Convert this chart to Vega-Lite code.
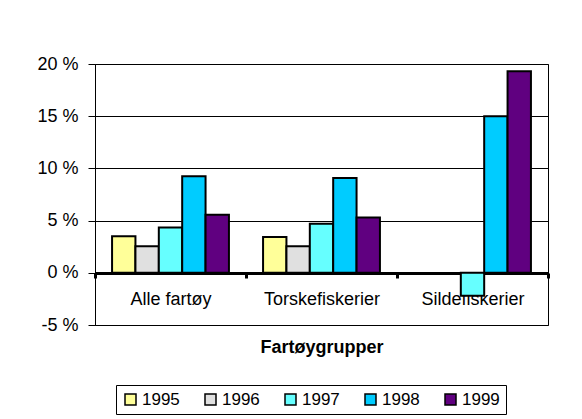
{
  "$schema": "https://vega.github.io/schema/vega-lite/v6.json",
  "width": 453,
  "height": 261,
  "autosize": {"type": "none"},
  "padding": {"left": 95, "top": 64, "right": 34, "bottom": 94},
  "background": "white",
  "config": {
    "font": "Liberation Sans",
    "view": {"stroke": "black", "strokeWidth": 1}
  },
  "data": {
    "values": [
      {"group": "Alle fartøy", "year": "1995", "value": 3.5},
      {"group": "Alle fartøy", "year": "1996", "value": 2.55},
      {"group": "Alle fartøy", "year": "1997", "value": 4.33},
      {"group": "Alle fartøy", "year": "1998", "value": 9.25},
      {"group": "Alle fartøy", "year": "1999", "value": 5.55},
      {"group": "Torskefiskerier", "year": "1995", "value": 3.43},
      {"group": "Torskefiskerier", "year": "1996", "value": 2.55},
      {"group": "Torskefiskerier", "year": "1997", "value": 4.71},
      {"group": "Torskefiskerier", "year": "1998", "value": 9.07},
      {"group": "Torskefiskerier", "year": "1999", "value": 5.29},
      {"group": "Sildefiskerier", "year": "1997", "value": -2.2},
      {"group": "Sildefiskerier", "year": "1998", "value": 15.0},
      {"group": "Sildefiskerier", "year": "1999", "value": 19.3}
    ]
  },
  "mark": {"type": "bar", "stroke": "black", "strokeWidth": 2, "opacity": 1},
  "encoding": {
    "x": {
      "field": "group",
      "type": "nominal",
      "sort": ["Alle fartøy", "Torskefiskerier", "Sildefiskerier"],
      "scale": {"paddingInner": 0, "paddingOuter": 0},
      "axis": {
        "title": "Fartøygrupper",
        "titleFontSize": 18,
        "titleFontWeight": "bold",
        "titleColor": "black",
        "titlePadding": 30,
        "labelFontSize": 18,
        "labelColor": "black",
        "labelAngle": 0,
        "labelPadding": 12,
        "offset": -52,
        "domainColor": "black",
        "domainWidth": 3,
        "tickColor": "black",
        "tickWidth": 3,
        "tickSize": 5,
        "tickBand": "extent"
      }
    },
    "xOffset": {
      "field": "year",
      "type": "nominal",
      "scale": {"paddingInner": 0, "paddingOuter": 0.73}
    },
    "y": {
      "field": "value",
      "type": "quantitative",
      "scale": {"domain": [-5, 20], "nice": false, "zero": false},
      "axis": {
        "title": null,
        "values": [-5, 0, 5, 10, 15, 20],
        "labelExpr": "datum.value + ' %'",
        "labelFontSize": 18,
        "labelColor": "black",
        "labelPadding": 10,
        "tickColor": "black",
        "tickSize": 7,
        "domainColor": "black",
        "grid": true,
        "gridColor": "black",
        "gridWidth": 1,
        "gridOpacity": 1
      }
    },
    "color": {
      "field": "year",
      "type": "nominal",
      "scale": {
        "domain": ["1995", "1996", "1997", "1998", "1999"],
        "range": ["#FFFF99", "#E0E0E0", "#66FFFF", "#00CCFF", "#600080"]
      },
      "legend": {
        "orient": "none",
        "legendX": 21,
        "legendY": 321,
        "direction": "horizontal",
        "title": null,
        "strokeColor": "black",
        "padding": 6,
        "symbolType": "square",
        "symbolSize": 121,
        "symbolStrokeColor": "black",
        "symbolStrokeWidth": 1.5,
        "symbolOpacity": 1,
        "labelFontSize": 17,
        "labelColor": "black",
        "labelOffset": 3,
        "columnPadding": 22
      }
    }
  }
}
